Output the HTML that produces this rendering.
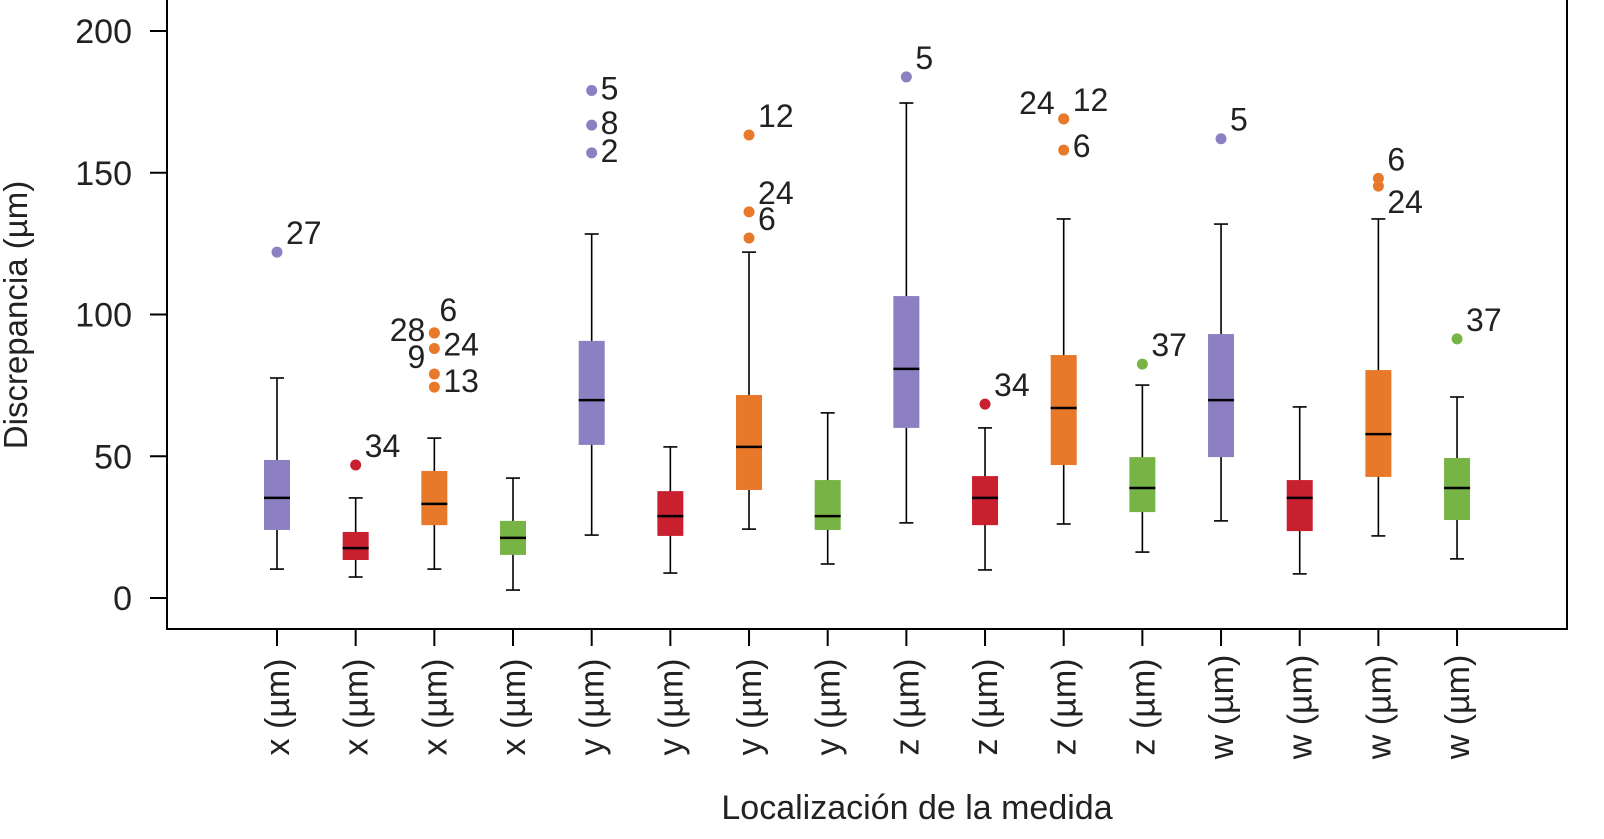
<!DOCTYPE html>
<html><head><meta charset="utf-8"><style>
html,body{margin:0;padding:0;background:#fff;}
svg{display:block;font-family:"Liberation Sans",Arial,sans-serif;}
</style></head><body>
<svg id="chart" width="1604" height="839" viewBox="0 0 1604 839"></svg>
<script>
const categories=["x (µm)","x (µm)","x (µm)","x (µm)","y (µm)","y (µm)","y (µm)","y (µm)","z (µm)","z (µm)","z (µm)","z (µm)","w (µm)","w (µm)","w (µm)","w (µm)"];
const colorsIdx=[0,1,2,3,0,1,2,3,0,1,2,3,0,1,2,3];
const whiskerLow=[10.2,7.4,10.2,2.8,22.2,8.8,24.3,12,26.5,9.9,26.1,16.2,27.2,8.5,21.9,13.8];
const q1=[24,13.4,25.7,15.2,54,21.9,38.1,24,60,25.7,46.9,30.3,49.7,23.6,42.7,27.5];
const medians=[35.3,17.6,33.2,21.2,69.8,28.9,53.3,28.9,80.8,35.3,67,38.8,69.8,35.3,57.8,38.8];
const q3=[48.7,23.3,44.8,27.2,90.7,37.7,71.6,41.6,106.5,43,85.7,49.7,93.1,41.6,80.4,49.4];
const whiskerHigh=[77.6,35.3,56.4,42.3,128.4,53.3,122,65.3,174.6,60,133.7,75.1,131.9,67.4,133.7,70.9];
// outliers: [categoryIndex, value, label, side]
const outliers=[[0,122,"27","r"],[1,46.9,"34","r"],[2,93.5,"6","ru"],[2,93.5,"28","l"],[2,88,"24","r"],[2,79,"9","l"],[2,74.4,"13","r"],
[4,179,"5","r"],[4,166.8,"8","r"],[4,157,"2","r"],[6,163.3,"12","r"],[6,136.2,"24","r"],[6,127,"6","r"],
[8,183.8,"5","r"],[9,68.4,"34","r"],[10,169,"12","r"],[10,169,"24","l"],[10,158,"6","r"],[11,82.5,"37","r"],
[12,162,"5","r"],[14,148,"6","r"],[14,145.3,"24","rd"],[15,91.4,"37","r"]];
const yTicks=[0,50,100,150,200];
const palette=["#8c80c2","#c8202f","#e8792b","#78b445"];
const svg=document.getElementById('chart');const NS="http://www.w3.org/2000/svg";
function y(v){return 598-2.835*v;}
function x(i){return 277+i*78.67;}
function el(t,a,txt){const e=document.createElementNS(NS,t);for(const k in a)e.setAttribute(k,a[k]);if(txt!==undefined)e.textContent=txt;svg.appendChild(e);return e;}
let f=el('rect',{x:167,y:-2,width:1400,height:631,fill:'none',stroke:'#000','stroke-width':2});


yTicks.forEach(v=>{
 let t=el('line',{x1:150,x2:167,y1:y(v),y2:y(v),stroke:'#000','stroke-width':2});
 
 
 let l=el('text',{x:132,y:y(v)+12,'font-size':34,'text-anchor':'end',fill:'#222'},String(v));
 
 
});
categories.forEach((c,i)=>{
 const cx=x(i),col=palette[colorsIdx[i]];
 let tk=el('line',{x1:cx,x2:cx,y1:629,y2:646,stroke:'#000','stroke-width':2});
 
 
 let lb=el('text',{x:0,y:0,'font-size':34,'text-anchor':'middle',fill:'#222',transform:`translate(${cx+12},707) rotate(-90)`},c);
 
 
 let w=el('line',{x1:cx,x2:cx,y1:y(whiskerLow[i]),y2:y(whiskerHigh[i]),stroke:'#000','stroke-width':1.6});
 
 
 [whiskerLow[i],whiskerHigh[i]].forEach(v=>{let cp=el('line',{x1:cx-7,x2:cx+7,y1:y(v),y2:y(v),stroke:'#000','stroke-width':1.6});
 
 });
 let b=el('rect',{x:cx-13,y:y(q3[i]),width:26,height:y(q1[i])-y(q3[i]),fill:col});
 
 
 let m=el('line',{x1:cx-13,x2:cx+13,y1:y(medians[i]),y2:y(medians[i]),stroke:'#000','stroke-width':2.5});
 
 
});
outliers.forEach(o=>{
 const cx=x(o[0]),cy=y(o[1]),col=palette[colorsIdx[o[0]]];
 let p=el('circle',{cx:cx,cy:cy,r:5.5,fill:col});
 
 
 let tx,ty,anc='start';
 if(o[3]==='r'){tx=cx+9;ty=cy-8;}
 else if(o[3]==='ru'){tx=cx+5;ty=cy-12;}
 else if(o[3]==='rd'){tx=cx+9;ty=cy+27;}
 else {tx=cx-9;ty=cy+8;anc='end';}
 if(o[3]==='r'&&o[2]==='24'&&o[0]===2){ty=cy+7;}
 if(o[3]==='r'&&o[2]==='13'){ty=cy+5;}
 if(o[3]==='l'&&o[2]==='9'){ty=cy-6;}
 if(o[3]==='r'&&o[0]===4){ty=cy+9;}
 if(o[3]==='r'&&o[0]===10&&o[2]==='6'){ty=cy+7;}
 if(o[3]==='l'&&o[0]===10){ty=cy-5;}
 let t=el('text',{x:tx,y:ty,'font-size':32,'text-anchor':anc,fill:'#222'},o[2]);
 
 
});
let yt=el('text',{x:0,y:0,'font-size':33,'text-anchor':'middle',fill:'#222',transform:'translate(27,315) rotate(-90)'},'Discrepancia (µm)');


let xt=el('text',{x:917,y:819,'font-size':34,'text-anchor':'middle',fill:'#222'},'Localización de la medida');


</script>
</body></html>
